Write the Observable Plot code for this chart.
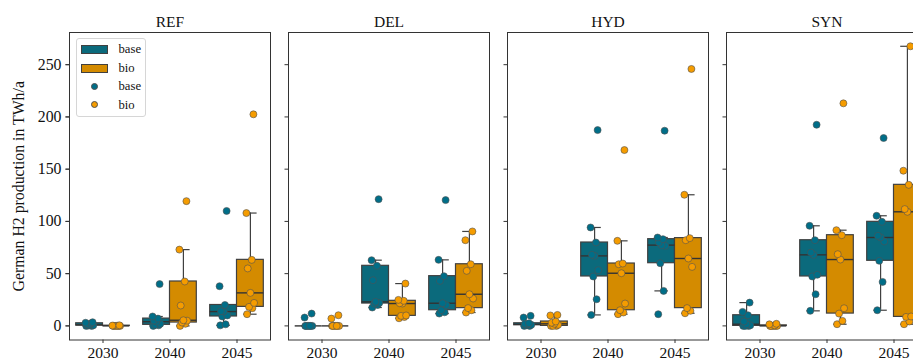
<!DOCTYPE html>
<html><head><meta charset="utf-8">
<script src="https://cdn.jsdelivr.net/npm/d3@7"></script>
<script src="https://cdn.jsdelivr.net/npm/@observablehq/plot@0.6"></script>
<style>
html,body{margin:0;padding:0;background:#fff;overflow:hidden;width:913px;height:360px}
#wrap{position:relative;width:913px;height:360px;overflow:hidden}
#chart svg{max-width:none !important;width:930px !important;height:372px !important}
#chart svg text{font-family:"Liberation Serif","Times New Roman",serif !important}
#legend{position:absolute;left:76px;top:38px;width:70px;height:79px;box-sizing:border-box;border:1px solid #d6d6d6;border-radius:3px;background:rgba(255,255,255,0.85);font-family:"Liberation Serif","Times New Roman",serif;font-size:12.7px;color:#111}
.row{position:absolute;left:0;height:18px;width:68px}
.sw{position:absolute;left:3.5px;top:5px;width:27px;height:9px;box-sizing:border-box;border:1px solid #404040}
.dt{position:absolute;left:13.5px;top:5.5px;width:7px;height:7px;border-radius:50%;box-sizing:border-box;border:0.6px solid #505050}
.lb{position:absolute;left:41.5px;top:0px;line-height:18px}
</style></head><body>
<div id="wrap"><div id="chart"></div><div id="legend"></div></div>
<script>
// ---- data (TWh/a), 9 model runs per group ----
const scenarios = ["REF", "DEL", "HYD", "SYN"];
const years = ["2030", "2040", "2045"];
const groups = ["base", "bio"];
const yTicks = [0, 50, 100, 150, 200, 250];

const REF_base = [
  [0, 0, 0.3, 0.5, 1, 1.5, 2.5, 3, 3.5],
  [0, 0.5, 1, 2, 4, 5, 7, 9, 40],
  [0.5, 1.5, 9, 10, 13.7, 14, 20, 38, 110]
];
const REF_bio = [
  [0, 0, 0, 0, 0, 0.1, 0.2, 0.3, 0.5],
  [0, 2, 3.2, 5, 5.4, 19.5, 42.5, 73, 119.4],
  [11.2, 17, 18.2, 22, 31.6, 55, 63.2, 108, 202.5]
];
const DEL_base = [
  [0, 0, 0, 0, 0, 0, 0, 8, 11.8],
  [17.6, 20, 21.4, 22, 23, 43.7, 57.5, 62.9, 121.3],
  [11.8, 13, 15, 19.8, 21.7, 43.1, 47.6, 63.2, 120.4]
];
const DEL_bio = [
  [0, 0, 0, 0, 0, 0, 0, 7, 10.2],
  [7.3, 8.5, 9.6, 10, 21.4, 21.7, 24, 24.9, 40.5],
  [12.8, 15, 17, 26.2, 30.3, 52.7, 59, 82, 90.4]
];
const HYD_base = [
  [0, 0, 0.6, 1, 1.5, 2, 2.5, 8, 9.6],
  [10.5, 25.5, 47.3, 53.3, 67, 68, 79.8, 94.2, 187.4],
  [11.2, 33.5, 60, 76.6, 77.3, 80, 83, 84.6, 186.8]
];
const HYD_bio = [
  [0, 0, 0, 1, 2, 3, 4.2, 10, 10.5],
  [11.2, 12.8, 15, 21.4, 50.4, 59, 59.7, 81.4, 168.3],
  [12.1, 14.4, 17, 56.5, 64.5, 82, 84, 125.5, 245.9]
];
const SYN_base = [
  [0, 0, 0, 0.5, 1.6, 4.2, 10.2, 13.4, 22.3],
  [14.4, 30.3, 47.3, 48.9, 68, 70.2, 82, 95.8, 192.5],
  [15, 42.1, 62.3, 80.8, 84.6, 86.2, 99.6, 105.4, 179.8]
];
const SYN_bio = [
  [0, 0, 0, 0, 0, 0, 0.5, 1.5, 2],
  [1.6, 4.8, 11.8, 16.9, 63.5, 68.6, 86.8, 91.6, 213],
  [1.6, 4.2, 8.6, 9, 109.2, 111.8, 135, 148.5, 267.6]
];

// ---- styling ----
const boxColor = {base: "#0b6a7c", bio: "#d48b00"};
const dotColor = {base: "#006e88", bio: "#f59c00"};
const jitter = [-0.05, 0.03, -0.02, 0.055, 0.0, -0.04, 0.02, -0.06, 0.045];
const font = '"Liberation Serif","Times New Roman",serif';

const series = {
  REF: {base: REF_base, bio: REF_bio},
  DEL: {base: DEL_base, bio: DEL_bio},
  HYD: {base: HYD_base, bio: HYD_bio},
  SYN: {base: SYN_base, bio: SYN_bio}
};

const stats = [], points = [];
for (const s of scenarios) for (const g of groups) years.forEach((yr, yi) => {
  const vals = series[s][g][yi];
  const sorted = vals.slice().sort(d3.ascending);
  const q1 = d3.quantileSorted(sorted, 0.25), med = d3.quantileSorted(sorted, 0.5), q3 = d3.quantileSorted(sorted, 0.75);
  const iqr = q3 - q1;
  const lo = d3.min(sorted.filter(v => v >= q1 - 1.5 * iqr));
  const hi = d3.max(sorted.filter(v => v <= q3 + 1.5 * iqr));
  const c = yi + (g === "base" ? -0.2 : 0.2);
  stats.push({s, g, c, q1, med, q3, lo, hi});
  vals.forEach((v, i) => points.push({s, g, x: c + jitter[i % jitter.length], v}));
});

const stroke = "#404040";
const chart = Plot.plot({
  width: 930, height: 372,
  marginTop: 32, marginBottom: 32.5, marginLeft: 68.3, marginRight: 2.7,
  style: {fontFamily: font, fontSize: "15.5px", color: "#111", background: "transparent", overflow: "visible", maxWidth: "none"},
  fx: {domain: scenarios, paddingInner: 0.0834, paddingOuter: 0, label: null},
  x: {domain: [-0.5, 2.5]},
  y: {domain: [-13.5, 280.8]},
  marks: [
    Plot.axisFx({anchor: "top", tickSize: 0, tickPadding: 6, label: null, fontSize: 15.5}),
    Plot.axisX({ticks: [0, 1, 2], tickFormat: i => years[i], tickSize: 3.5, tickPadding: 3.5, label: null, stroke: "#333", fontSize: 15.5}),
    Plot.axisY({ticks: yTicks, tickSize: 3.5, fill: "none", label: null, stroke: "#333", facetAnchor: null}),
    Plot.axisY({ticks: yTicks, tickSize: 3.5, tickPadding: 4.5, stroke: "#333", fontSize: 15.8,
      label: "German H2 production in TWh/a", labelAnchor: "center", labelArrow: "none", labelOffset: 57}),
    // whiskers
    Plot.ruleX(stats, {fx: "s", x: "c", y1: "q3", y2: "hi", stroke, strokeWidth: 1.2}),
    Plot.ruleX(stats, {fx: "s", x: "c", y1: "lo", y2: "q1", stroke, strokeWidth: 1.2}),
    Plot.ruleY(stats, {fx: "s", x1: d => d.c - 0.1, x2: d => d.c + 0.1, y: "hi", stroke, strokeWidth: 1.2}),
    Plot.ruleY(stats, {fx: "s", x1: d => d.c - 0.1, x2: d => d.c + 0.1, y: "lo", stroke, strokeWidth: 1.2}),
    // boxes
    Plot.rect(stats, {fx: "s", x1: d => d.c - 0.2, x2: d => d.c + 0.2, y1: "q1", y2: "q3",
      fill: d => boxColor[d.g], stroke, strokeWidth: 1.2}),
    Plot.ruleY(stats, {fx: "s", x1: d => d.c - 0.2, x2: d => d.c + 0.2, y: "med", stroke: "#333", strokeWidth: 1.4}),
    // points
    Plot.dot(points, {fx: "s", x: "x", y: "v", r: 3.5, fill: d => dotColor[d.g], stroke: "#505050", strokeWidth: 0.6}),
    Plot.frame({stroke: "#333", strokeWidth: 1})
  ]
});
document.getElementById("chart").appendChild(chart);

// legend (HTML overlay inside REF panel)
const leg = document.getElementById("legend");
const items = [
  {type: "box", g: "base"}, {type: "box", g: "bio"},
  {type: "dot", g: "base"}, {type: "dot", g: "bio"}
];
items.forEach((it, i) => {
  const row = document.createElement("div");
  row.className = "row";
  row.style.top = (1 + i * 18.6) + "px";
  const m = document.createElement("div");
  if (it.type === "box") { m.className = "sw"; m.style.background = boxColor[it.g]; }
  else { m.className = "dt"; m.style.background = dotColor[it.g]; }
  const t = document.createElement("div");
  t.className = "lb"; t.textContent = it.g;
  row.appendChild(m); row.appendChild(t);
  leg.appendChild(row);
});
</script>
</body></html>
